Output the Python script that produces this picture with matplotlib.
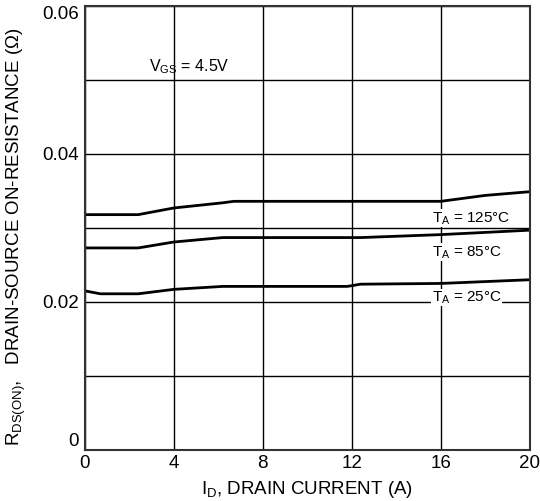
import numpy as np
import matplotlib
matplotlib.use("Agg")
import matplotlib.pyplot as plt

plt.rcParams['font.family'] = ['Liberation Sans', 'DejaVu Sans']
plt.rcParams['mathtext.default'] = 'regular'

# drain current (A) and on-resistance (ohm) for each ambient temperature
id_125 = [0, 2.4, 4.0, 6.2, 6.7, 16.0, 18.0, 20.0]
r_125 = [0.0318, 0.0318, 0.0327, 0.0334, 0.0336, 0.0336, 0.0344, 0.0349]

id_85 = [0, 2.4, 4.0, 6.2, 12.4, 16.0, 20.0]
r_85 = [0.0273, 0.0273, 0.0281, 0.0287, 0.0287, 0.0291, 0.0297]

id_25 = [0, 0.7, 2.4, 4.0, 6.2, 11.8, 12.4, 16.0, 20.0]
r_25 = [0.0215, 0.0211, 0.0211, 0.0217, 0.0221, 0.0221, 0.0224, 0.0225, 0.0230]

labels = ['$T_A$ = 125°C', '$T_A$ = 85°C', '$T_A$ = 25°C']
label_y = [0.0313, 0.0267, 0.0206]

fig = plt.figure(figsize=(5.4, 5.01), dpi=100)
ax = fig.add_axes([0.157, 0.102, 0.824, 0.886])

ax.set_xlim(0, 20)
ax.set_ylim(0, 0.06)
ax.set_xticks([0, 4, 8, 12, 16, 20])
ax.set_yticks(np.arange(0, 0.061, 0.01))
ax.set_yticklabels(['0', '', '0.02', '', '0.04', '', '0.06'])
ax.grid(True, color='black', linewidth=1.0)
ax.tick_params(length=0, labelsize=13.5, pad=4)
for s in ax.spines.values():
    s.set_color('#333333')
    s.set_linewidth(1.5)

ylabs = ax.get_yticklabels()
ylabs[0].set_va('bottom')
ylabs[-1].set_va('top')

for x, y in [(id_125, r_125), (id_85, r_85), (id_25, r_25)]:
    ax.plot(x, y, color='black', linewidth=2.0)

for txt, y in zip(labels, label_y):
    ax.text(15.6, y, txt, fontsize=11, ha='left', va='center',
            bbox=dict(facecolor='white', edgecolor='none', pad=0.5))

ax.text(4.7, 0.0518, '$V_{GS}$ = 4.5V', fontsize=11.5, ha='center', va='center')

ax.set_xlabel('$I_D$, DRAIN CURRENT (A)', fontsize=13.5, labelpad=5)
ax.set_ylabel('$R_{DS(ON)}$,   DRAIN-SOURCE ON-RESISTANCE (Ω)', fontsize=13.5)
ax.yaxis.set_label_coords(-0.127, 0.48)

fig.savefig('out.png', dpi=100)
